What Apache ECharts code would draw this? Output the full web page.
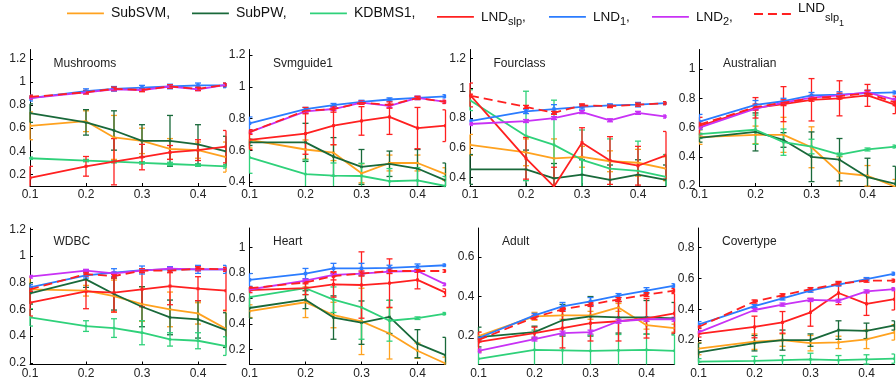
<!DOCTYPE html>
<html>
<head>
<meta charset="utf-8">
<script src="https://cdn.jsdelivr.net/npm/echarts@6/dist/echarts.min.js"></script>
<style>
html,body{margin:0;padding:0;background:#fff;}
#chart{width:896px;height:387px;}
</style>
</head>
<body>
<div id="chart"></div>
<script>
// ---------- data ----------
const xValues = [0.1, 0.2, 0.25, 0.3, 0.35, 0.4, 0.45];
const xTicks = [0.1, 0.2, 0.3, 0.4];
const seriesNames = ['SubSVM', 'SubPW', 'KDBMS1', 'LNDslp', 'LND1', 'LND2', 'LNDslp1'];
const legendLabels = [
  '{m|SubSVM,}',
  '{m|SubPW,}',
  '{m|KDBMS1,}',
  '{n|LND}{s|slp}{n|,}',
  '{n|LND}{s|1}{n|,}',
  '{n|LND}{s|2}{n|,}',
  '{t|LND}{u|slp}{v|1}'
];
const panelTitles = ['Mushrooms', 'Svmguide1', 'Fourclass', 'Australian', 'WDBC', 'Heart', 'Adult', 'Covertype'];

// rows follow seriesNames order
const mushroomsMean = [
  [0.62, 0.66, 0.52, 0.49, 0.42, 0.41, 0.35],
  [0.73, 0.65, 0.58, 0.49, 0.49, 0.46, 0.40],
  [0.34, 0.32, 0.31, 0.30, 0.29, 0.28, 0.27],
  [0.17, 0.27, 0.31, 0.35, 0.39, 0.41, 0.44],
  [0.86, 0.92, 0.94, 0.95, 0.96, 0.97, 0.97],
  [0.86, 0.91, 0.935, 0.93, 0.96, 0.935, 0.975],
  [0.87, 0.91, 0.94, 0.93, 0.96, 0.94, 0.975]
];
const mushroomsErr = [
  [0.12, 0.09, 0.19, 0.11, 0.09, 0.07, 0.13],
  [0.08, 0.11, 0.17, 0.14, 0.22, 0.17, 0.13],
  [0.01, 0.01, 0.01, 0.01, 0.015, 0.01, 0.015],
  [0.10, 0.085, 0.20, 0.11, 0.06, 0.09, 0.14],
  [0.025, 0.02, 0.02, 0.02, 0.02, 0.02, 0.02],
  [0.01, 0.01, 0.01, 0.01, 0.01, 0.01, 0.01],
  [0.015, 0.015, 0.015, 0.015, 0.015, 0.015, 0.015]
];
const mushroomsTicks = [0.2, 0.4, 0.6, 0.8, 1, 1.2];
const mushroomsRange = [0.1, 1.28];

const svmguide1Mean = [
  [0.665, 0.605, 0.585, 0.455, 0.52, 0.52, 0.45],
  [0.65, 0.65, 0.56, 0.495, 0.515, 0.485, 0.41],
  [0.555, 0.45, 0.44, 0.438, 0.405, 0.41, 0.375],
  [0.665, 0.705, 0.755, 0.785, 0.81, 0.74, 0.755],
  [0.77, 0.86, 0.885, 0.905, 0.92, 0.93, 0.94],
  [0.715, 0.845, 0.86, 0.90, 0.88, 0.93, 0.905],
  [0.715, 0.85, 0.86, 0.90, 0.885, 0.93, 0.905]
];
const svmguide1Err = [
  [0.05, 0.06, 0.05, 0.06, 0.05, 0.05, 0.04],
  [0.02, 0.12, 0.12, 0.11, 0.08, 0.12, 0.11],
  [0.10, 0.09, 0.08, 0.08, 0.08, 0.08, 0.06],
  [0.06, 0.13, 0.12, 0.09, 0.11, 0.13, 0.10],
  [0.04, 0.01, 0.01, 0.01, 0.01, 0.01, 0.01],
  [0.01, 0.01, 0.01, 0.01, 0.01, 0.01, 0.01],
  [0.015, 0.02, 0.02, 0.01, 0.02, 0.01, 0.01]
];
const svmguide1Ticks = [0.4, 0.6, 0.8, 1, 1.2];
const svmguide1Range = [0.375, 1.235];

const fourclassMean = [
  [0.62, 0.57, 0.53, 0.54, 0.51, 0.50, 0.46],
  [0.455, 0.455, 0.395, 0.42, 0.385, 0.42, 0.385],
  [0.92, 0.68, 0.62, 0.52, 0.46, 0.445, 0.405],
  [0.955, 0.53, 0.34, 0.635, 0.515, 0.48, 0.55],
  [0.78, 0.845, 0.86, 0.875, 0.885, 0.89, 0.90],
  [0.76, 0.78, 0.80, 0.84, 0.785, 0.835, 0.81],
  [0.95, 0.875, 0.835, 0.885, 0.88, 0.89, 0.90]
];
const fourclassErr = [
  [0.07, 0.09, 0.13, 0.07, 0.07, 0.09, 0.08],
  [0.10, 0.13, 0.10, 0.10, 0.10, 0.10, 0.10],
  [0.07, 0.30, 0.30, 0.20, 0.20, 0.20, 0.15],
  [0.08, 0.14, 0.13, 0.10, 0.16, 0.13, 0.16],
  [0.01, 0.015, 0.03, 0.015, 0.01, 0.015, 0.01],
  [0.01, 0.01, 0.01, 0.01, 0.01, 0.01, 0.01],
  [0.01, 0.01, 0.01, 0.01, 0.01, 0.01, 0.01]
];
const fourclassTicks = [0.4, 0.6, 0.8, 1, 1.2];
const fourclassRange = [0.344, 1.26];

const australianMean = [
  [0.535, 0.55, 0.55, 0.465, 0.29, 0.27, 0.195],
  [0.53, 0.57, 0.515, 0.40, 0.38, 0.26, 0.215],
  [0.555, 0.585, 0.50, 0.47, 0.415, 0.45, 0.47],
  [0.61, 0.735, 0.76, 0.79, 0.80, 0.82, 0.755],
  [0.64, 0.755, 0.78, 0.82, 0.825, 0.835, 0.84],
  [0.60, 0.73, 0.77, 0.805, 0.82, 0.84, 0.79],
  [0.62, 0.74, 0.77, 0.80, 0.815, 0.835, 0.77]
];
const australianErr = [
  [0.05, 0.06, 0.12, 0.14, 0.11, 0.07, 0.05],
  [0.03, 0.13, 0.05, 0.17, 0.145, 0.13, 0.12],
  [0.03, 0.10, 0.09, 0.05, 0.01, 0.01, 0.01],
  [0.06, 0.07, 0.12, 0.145, 0.12, 0.075, 0.06],
  [0.05, 0.03, 0.02, 0.02, 0.02, 0.02, 0.01],
  [0.01, 0.01, 0.01, 0.01, 0.01, 0.01, 0.01],
  [0.02, 0.02, 0.02, 0.02, 0.02, 0.02, 0.02]
];
const australianTicks = [0.2, 0.4, 0.6, 0.8, 1];
const australianRange = [0.2, 1.134];

const wdbcMean = [
  [0.75, 0.74, 0.70, 0.64, 0.60, 0.57, 0.455],
  [0.72, 0.825, 0.715, 0.62, 0.54, 0.525, 0.445],
  [0.54, 0.475, 0.46, 0.425, 0.375, 0.365, 0.325],
  [0.65, 0.735, 0.725, 0.75, 0.775, 0.755, 0.74],
  [0.765, 0.855, 0.875, 0.895, 0.90, 0.90, 0.90],
  [0.845, 0.89, 0.87, 0.89, 0.905, 0.90, 0.90],
  [0.75, 0.865, 0.85, 0.89, 0.89, 0.905, 0.90]
];
const wdbcErr = [
  [0.10, 0.04, 0.12, 0.13, 0.13, 0.08, 0.14],
  [0.08, 0.06, 0.12, 0.15, 0.13, 0.14, 0.13],
  [0.065, 0.04, 0.07, 0.09, 0.05, 0.06, 0.07],
  [0.10, 0.13, 0.145, 0.13, 0.14, 0.09, 0.15],
  [0.02, 0.02, 0.03, 0.03, 0.02, 0.03, 0.03],
  [0.01, 0.01, 0.01, 0.01, 0.01, 0.01, 0.01],
  [0.015, 0.015, 0.015, 0.015, 0.015, 0.015, 0.015]
];
const wdbcTicks = [0.2, 0.4, 0.6, 0.8, 1, 1.2];
const wdbcRange = [0.187, 1.21];

const heartMean = [
  [0.50, 0.57, 0.47, 0.42, 0.325, 0.19, 0.09],
  [0.525, 0.59, 0.45, 0.41, 0.455, 0.245, 0.155],
  [0.61, 0.68, 0.59, 0.53, 0.425, 0.445, 0.48],
  [0.665, 0.68, 0.71, 0.705, 0.72, 0.745, 0.645],
  [0.745, 0.795, 0.835, 0.835, 0.84, 0.85, 0.86],
  [0.67, 0.74, 0.785, 0.795, 0.81, 0.815, 0.71],
  [0.68, 0.725, 0.775, 0.795, 0.815, 0.815, 0.815]
];
const heartErr = [
  [0.05, 0.12, 0.10, 0.26, 0.20, 0.06, 0.05],
  [0.08, 0.07, 0.17, 0.17, 0.13, 0.11, 0.14],
  [0.08, 0.05, 0.10, 0.25, 0.16, 0.01, 0.01],
  [0.02, 0.05, 0.10, 0.26, 0.19, 0.07, 0.03],
  [0.05, 0.04, 0.04, 0.04, 0.02, 0.02, 0.01],
  [0.01, 0.01, 0.01, 0.01, 0.01, 0.01, 0.01],
  [0.01, 0.01, 0.03, 0.02, 0.02, 0.01, 0.01]
];
const heartTicks = [0.2, 0.4, 0.6, 0.8, 1];
const heartRange = [0.082, 1.152];

const adultMean = [
  [0.20, 0.30, 0.305, 0.305, 0.345, 0.255, 0.24],
  [0.195, 0.22, 0.28, 0.30, 0.295, 0.295, 0.29],
  [0.085, 0.13, 0.128, 0.125, 0.128, 0.13, 0.125],
  [0.17, 0.215, 0.24, 0.265, 0.275, 0.29, 0.315],
  [0.19, 0.305, 0.35, 0.375, 0.405, 0.43, 0.455],
  [0.125, 0.185, 0.215, 0.22, 0.275, 0.285, 0.285],
  [0.18, 0.295, 0.335, 0.36, 0.385, 0.41, 0.43]
];
const adultErr = [
  [0.02, 0.02, 0.02, 0.02, 0.02, 0.02, 0.02],
  [0.05, 0.03, 0.08, 0.10, 0.08, 0.085, 0.08],
  [0.04, 0.10, 0.08, 0.08, 0.08, 0.08, 0.08],
  [0.05, 0.03, 0.10, 0.09, 0.10, 0.10, 0.10],
  [0.01, 0.01, 0.02, 0.02, 0.01, 0.015, 0.01],
  [0.01, 0.01, 0.01, 0.01, 0.01, 0.01, 0.01],
  [0.01, 0.01, 0.01, 0.01, 0.01, 0.01, 0.01]
];
const adultTicks = [0.2, 0.4, 0.6];
const adultRange = [0.056, 0.747];

const covertypeMean = [
  [0.145, 0.19, 0.20, 0.18, 0.185, 0.205, 0.25],
  [0.12, 0.18, 0.20, 0.20, 0.265, 0.26, 0.295],
  [0.06, 0.065, 0.07, 0.075, 0.07, 0.075, 0.08],
  [0.24, 0.285, 0.315, 0.38, 0.505, 0.435, 0.465],
  [0.30, 0.42, 0.47, 0.52, 0.56, 0.595, 0.63],
  [0.25, 0.395, 0.43, 0.46, 0.455, 0.515, 0.53],
  [0.285, 0.45, 0.49, 0.53, 0.565, 0.585, 0.585]
];
const covertypeErr = [
  [0.04, 0.05, 0.04, 0.05, 0.04, 0.06, 0.05],
  [0.06, 0.05, 0.065, 0.04, 0.06, 0.05, 0.03],
  [0.02, 0.03, 0.03, 0.04, 0.03, 0.03, 0.03],
  [0.02, 0.07, 0.07, 0.09, 0.075, 0.075, 0.07],
  [0.02, 0.01, 0.01, 0.01, 0.01, 0.01, 0.01],
  [0.01, 0.01, 0.01, 0.01, 0.01, 0.01, 0.01],
  [0.01, 0.01, 0.01, 0.01, 0.01, 0.01, 0.01]
];
const covertypeTicks = [0.2, 0.4, 0.6, 0.8];
const covertypeRange = [0.042, 0.926];

// ---------- styling / layout ----------
const FONT = '"Liberation Sans", Arial, Helvetica, sans-serif';
const colors = ['#ffa21f', '#19693a', '#2fd17a', '#ff2020', '#2b7cff', '#c832f5', '#ff2020'];
const lineTypes = ['solid', 'solid', 'solid', 'solid', 'solid', 'solid', [9, 5]];
const markerSize = [2.5, 2.5, 2.5, 3, 3.5, 3.5, 3.5];
const SOLID_ICON = 'path://M0 0H41V2H0Z';
const DASH_ICON = 'path://M0 0H10V2H0Z M15.5 0H25.5V2H15.5Z M31 0H41V2H31Z';

const panels = [
  [mushroomsMean, mushroomsErr, mushroomsTicks, mushroomsRange],
  [svmguide1Mean, svmguide1Err, svmguide1Ticks, svmguide1Range],
  [fourclassMean, fourclassErr, fourclassTicks, fourclassRange],
  [australianMean, australianErr, australianTicks, australianRange],
  [wdbcMean, wdbcErr, wdbcTicks, wdbcRange],
  [heartMean, heartErr, heartTicks, heartRange],
  [adultMean, adultErr, adultTicks, adultRange],
  [covertypeMean, covertypeErr, covertypeTicks, covertypeRange]
];
const boxes = [[30, 49.5], [249.5, 49.5], [470, 49.5], [699.5, 49.5],
               [30, 228], [249.5, 228], [478.5, 228], [698.5, 228]];
const GW = 196, GH = 136.5;
const legendLefts = [67, 192, 310, 437, 549, 652, 754];
const legendTops = [6.3, 6.3, 6.3, 6.3, 6.3, 6.3, -0.5];

function makeErrRender(color, msize) {
  return function (params, api) {
    const x = api.value(0), y = api.value(1), e = api.value(2);
    const c = api.coord([x, y]);
    const t = api.coord([x, y + e]);
    const b = api.coord([x, y - e]);
    const cs = params.coordSys;
    const x0 = cs.x, x1 = cs.x + cs.width, y0 = cs.y, y1 = cs.y + cs.height;
    const cy = v => Math.max(y0, Math.min(y1, v));
    const cx = v => Math.max(x0, Math.min(x1, v));
    const st = { stroke: color, lineWidth: 1.3 };
    const ch = [];
    const ty = cy(t[1]), by = cy(b[1]);
    if (by > ty) ch.push({ type: 'line', shape: { x1: c[0], y1: ty, x2: c[0], y2: by }, style: st });
    const cap = 3;
    if (t[1] >= y0 && t[1] <= y1) ch.push({ type: 'line', shape: { x1: cx(c[0] - cap), y1: t[1], x2: cx(c[0] + cap), y2: t[1] }, style: st });
    if (b[1] >= y0 && b[1] <= y1) ch.push({ type: 'line', shape: { x1: cx(c[0] - cap), y1: b[1], x2: cx(c[0] + cap), y2: b[1] }, style: st });
    if (c[1] >= y0 && c[1] <= y1) {
      const l = cx(c[0] - msize / 2), r = cx(c[0] + msize / 2);
      ch.push({ type: 'rect', shape: { x: l, y: c[1] - msize / 2, width: r - l, height: msize }, style: { fill: color } });
    }
    return { type: 'group', children: ch };
  };
}

const grids = [], xAxes = [], yAxes = [], series = [], titles = [];
panels.forEach((p, i) => {
  const [mean, err, ticks, range] = p;
  const [left, top] = boxes[i];
  grids.push({ left: left, top: top, width: GW, height: GH, outerBoundsMode: 'none', containLabel: false });
  xAxes.push({
    type: 'value', gridIndex: i, min: 0.1, max: 0.45,
    axisLine: { show: true, lineStyle: { color: '#000', width: 1 } },
    axisTick: { show: true, inside: true, length: 3, customValues: xTicks, lineStyle: { color: '#000' } },
    axisLabel: { customValues: xTicks, fontSize: 12, color: '#222', fontFamily: FONT, margin: 3 },
    splitLine: { show: false }
  });
  yAxes.push({
    type: 'value', gridIndex: i, min: range[0], max: range[1],
    axisLine: { show: true, lineStyle: { color: '#000', width: 1 } },
    axisTick: { show: true, inside: true, length: 3, customValues: ticks, lineStyle: { color: '#000' } },
    axisLabel: { customValues: ticks, fontSize: 12, color: '#222', fontFamily: FONT, margin: 4 },
    splitLine: { show: false }
  });
  titles.push({
    text: panelTitles[i], left: left + 23.5, top: top + 8, padding: 0,
    textStyle: { fontSize: 12, fontWeight: 'normal', color: '#222', fontFamily: FONT }
  });
  seriesNames.forEach((name, k) => {
    series.push({
      type: 'line', name: name, xAxisIndex: i, yAxisIndex: i,
      data: xValues.map((x, j) => [x, mean[k][j]]),
      symbol: 'none', showSymbol: false, clip: true,
      lineStyle: { color: colors[k], width: 1.8, type: lineTypes[k] },
      itemStyle: { color: colors[k] },
      emphasis: { disabled: true }, silent: true
    });
    series.push({
      type: 'custom', name: name + ' error', xAxisIndex: i, yAxisIndex: i,
      data: xValues.map((x, j) => [x, mean[k][j], err[k][j]]),
      encode: { x: 0, y: 1 },
      renderItem: makeErrRender(colors[k], markerSize[k]),
      silent: true
    });
  });
});

const richStyles = {
  m: { fontSize: 14, fontFamily: FONT, color: '#111' },
  n: { fontSize: 13.5, fontFamily: FONT, color: '#111' },
  s: { fontSize: 11, fontFamily: FONT, color: '#111', lineHeight: 16, padding: [10, 0, 0, 0] },
  t: { fontSize: 13.5, fontFamily: FONT, color: '#111', lineHeight: 14, padding: [0, 0, 12, 0] },
  u: { fontSize: 11, fontFamily: FONT, color: '#111', lineHeight: 19, padding: [7, 0, 0, 0] },
  v: { fontSize: 9, fontFamily: FONT, color: '#111', lineHeight: 6, padding: [20, 0, 0, 0] }
};
const legends = seriesNames.map((name, k) => ({
  data: [{ name: name, icon: k === 6 ? DASH_ICON : SOLID_ICON }],
  left: legendLefts[k], top: legendTops[k], padding: 0,
  itemWidth: 41, itemHeight: 1.8, itemGap: 0, selectedMode: false,
  formatter: () => legendLabels[k],
  textStyle: { fontFamily: FONT, fontSize: 14, color: '#111', rich: richStyles }
}));

const chart = echarts.init(document.getElementById('chart'), null, { renderer: 'canvas' });
chart.setOption({
  animation: false,
  backgroundColor: '#fff',
  textStyle: { fontFamily: FONT },
  title: titles,
  legend: legends,
  grid: grids,
  xAxis: xAxes,
  yAxis: yAxes,
  series: series
});
</script>
</body>
</html>
